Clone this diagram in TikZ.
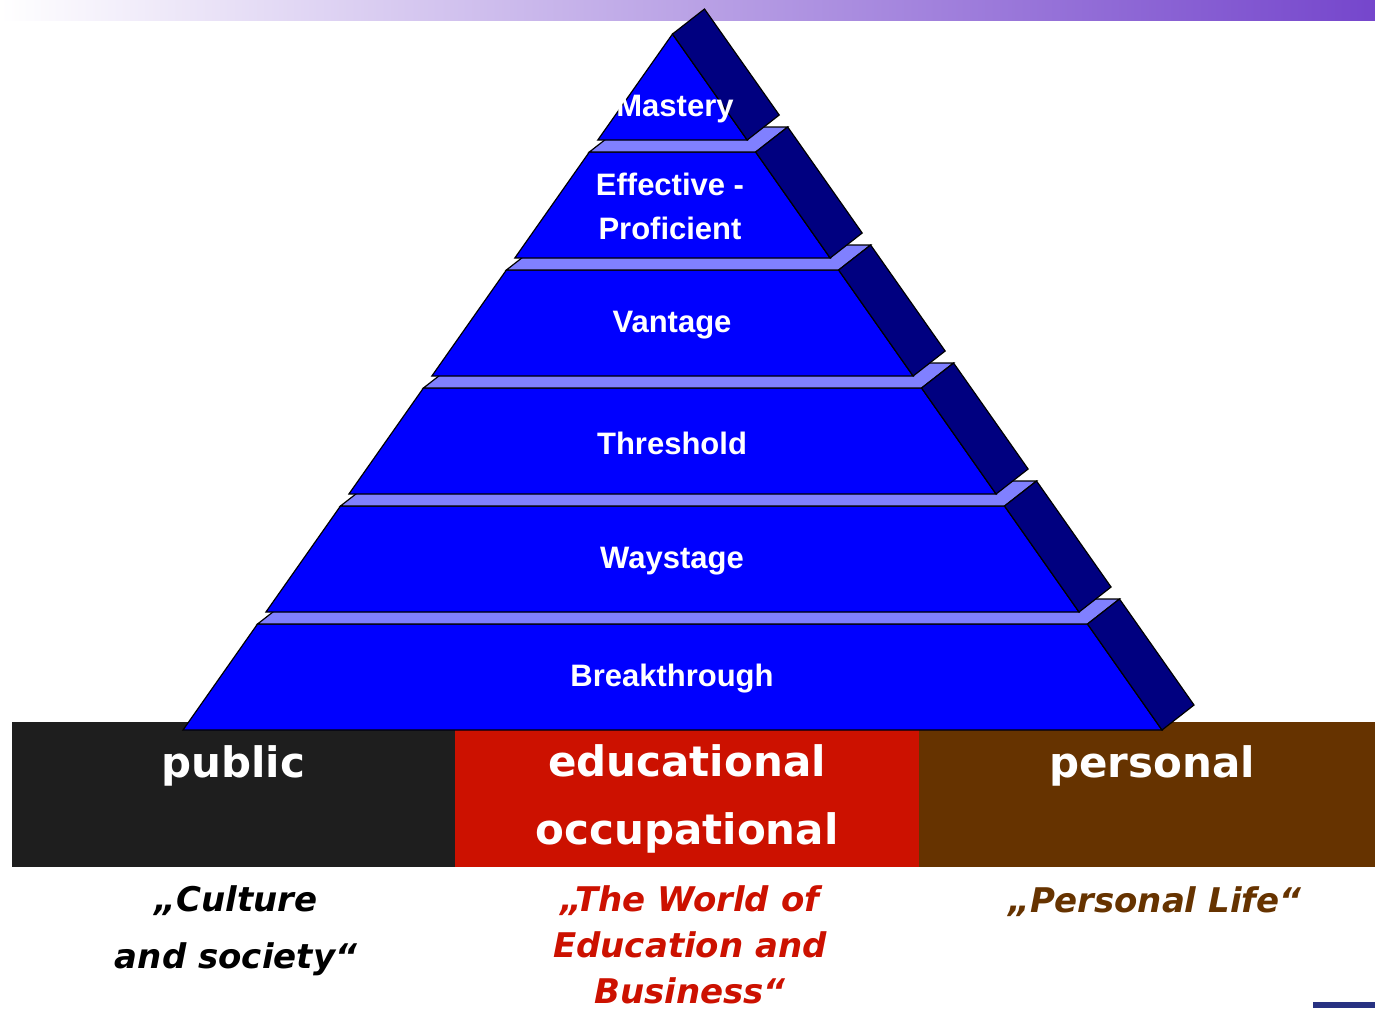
\documentclass[tikz,border=0pt]{standalone}
\usepackage{fontspec}
\setmainfont{Liberation Sans}
\newfontfamily\bandfont{DejaVu Sans}
\usetikzlibrary{positioning}
\definecolor{FrontBlue}{RGB}{0,0,255}
\definecolor{SideNavy}{RGB}{0,0,128}
\definecolor{TopLilac}{RGB}{128,128,255}
\definecolor{BandBlack}{RGB}{30,30,30}
\definecolor{BandRed}{RGB}{204,17,0}
\definecolor{BandBrown}{RGB}{102,51,0}
\definecolor{BarLilac}{RGB}{212,204,236}
\definecolor{BarPurple}{RGB}{117,70,204}
\definecolor{MarkNavy}{RGB}{40,50,130}
\tikzset{
  face/.style={draw=black, line width=0.6pt, line join=miter},
  level/.style={text=white, font=\bfseries\fontsize{15.5}{22}\selectfont, align=center},
  band/.style={text=white, font=\bandfont\bfseries\fontsize{21}{34}\selectfont, align=center},
  motto/.style={font=\bandfont\bfseries\itshape\fontsize{17}{23}\selectfont, align=center}
}

\begin{document}
\begin{tikzpicture}[x=0.5pt, y=-0.5pt]
    \useasboundingbox (0,0) rectangle (1375,1009);

    % top bar
    \shade[left color=white, middle color=BarLilac, right color=BarPurple] (0,0) rectangle (1375,20);

    % three domains under the pyramid
    \fill[BandBlack] (12,722) rectangle (455,867);
    \fill[BandRed] (455,722) rectangle (919,867);
    \fill[BandBrown] (919,722) rectangle (1375,867);

    % pyramid layers, bottom up: front, top and side faces
    \foreach \lvl in {0,...,4} {
        \pgfmathsetmacro\yb{730-118*\lvl}
        \pgfmathsetmacro\yt{\yb-106}
        \pgfmathsetmacro\wb{489.5-0.703*118*\lvl}
        \pgfmathsetmacro\wt{\wb-0.703*106}
        \filldraw[face, fill=FrontBlue] (672.5-\wb,\yb) -- (672.5+\wb,\yb) -- (672.5+\wt,\yt) -- (672.5-\wt,\yt) -- cycle;
        \filldraw[face, fill=TopLilac] (672.5-\wt,\yt) -- (672.5+\wt,\yt) -- (704.5+\wt,\yt-25) -- (704.5-\wt,\yt-25) -- cycle;
        \filldraw[face, fill=SideNavy] (672.5+\wt,\yt) -- (704.5+\wt,\yt-25) -- (704.5+\wb,\yb-25) -- (672.5+\wb,\yb) -- cycle;
    }
    % apex
    \filldraw[face, fill=FrontBlue] (597.8,140) -- (747.2,140) -- (672.5,34) -- cycle;
    \filldraw[face, fill=SideNavy] (672.5,34) -- (704.5,9) -- (779.2,115) -- (747.2,140) -- cycle;

    % level names
    \node[level] (brk) at (672,679) {Breakthrough};
    \node[level] (way) at (672,561) {Waystage};
    \node[level] (thr) at (672,443) {Threshold};
    \node[level] (van) at (672,325) {Vantage};
    \node[level] (eff) at (670,206) {Effective -\\Proficient};
    \node[level] (mas) at (675,109) {Mastery};

    % domain names
    \node[band] (pub) at (233,766) {public};
    \node[band] (edu) at (687,799) {educational\\occupational};
    \node[band] (pers) at (1152,766) {personal};

    % domain mottos
    \node[motto, text=black, font=\bandfont\bfseries\itshape\fontsize{17}{28.5}\selectfont] (pubm) at (236,931) {„Culture\\and society“};
    \node[motto, text=BandRed] (edum) at (690,945) {„The World of\\Education and\\Business“};
    \node[motto, text=BandBrown] (persm) at (1155,902) {„Personal Life“};

    \fill[MarkNavy] (1313,1002) rectangle (1375,1008);
\end{tikzpicture}
\end{document}
